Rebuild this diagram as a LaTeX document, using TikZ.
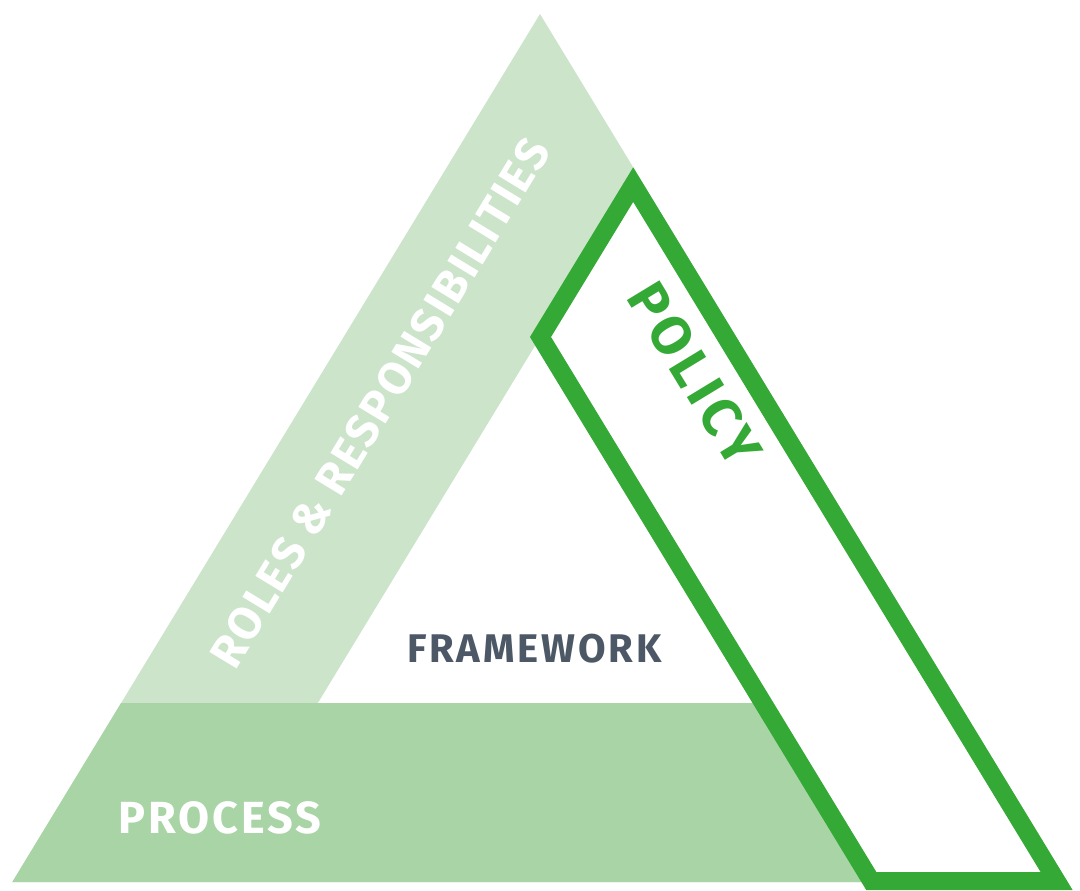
\documentclass[tikz,border=0pt]{standalone}
\usepackage{fontspec}
\setmainfont{Fira Sans}
\definecolor{lightg}{HTML}{CBE4CA}
\definecolor{midg}{HTML}{A8D4A6}
\definecolor{strokeg}{HTML}{34A935}
\definecolor{slate}{HTML}{4D5867}
\newcommand{\lblfont}[2]{\fontsize{#1}{#1}\selectfont\bfseries\addfontfeatures{LetterSpace=#2}}
\begin{document}
\begin{tikzpicture}[x=1pt,y=-1pt,
  lbl/.style={inner sep=0pt},
]
\useasboundingbox (0,0) rectangle (1080,891);
% light outer triangle (roles)
\fill[lightg] (540,14) -- (12.3,882) -- (1067.7,882) -- cycle;
% inner white triangle (framework)
\fill[white] (318,703) -- (540.5,337) -- (763,703) -- cycle;
% process band
\fill[midg] (12.3,882) -- (121.1,703) -- (763,703) -- (872,882) -- cycle;
% policy band
\draw[strokeg,fill=white,line width=18pt,line join=miter,miter limit=10]
  (633.2,184.6) -- (540.5,337) -- (871.3,881) -- (1056.6,881) -- cycle;
% labels
\node[lbl,text=white,anchor=base west,font=\lblfont{45}{6.5}] (process) at (118,833) {PROCESS};
\node[lbl,text=slate,anchor=base west,font=\lblfont{40}{7}] (framework) at (407,662) {FRAMEWORK};
\node[lbl,text=white,rotate=58.7,font=\lblfont{46}{4.5}] (roles) at (380,403) {ROLES \& RESPONSIBILITIES};
\node[lbl,text=strokeg,rotate=-58.7,font=\lblfont{55}{9}] (policy) at (695,374) {POLICY};
\end{tikzpicture}
\end{document}
